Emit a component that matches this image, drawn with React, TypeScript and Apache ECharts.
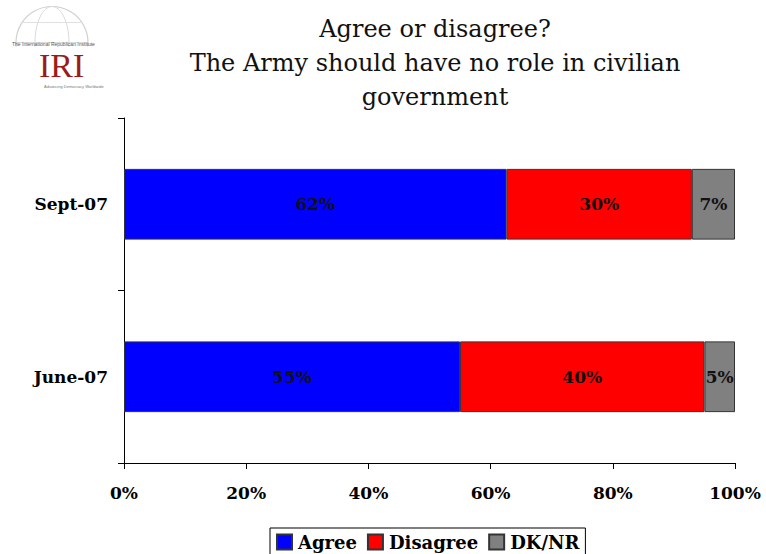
import React, { useEffect, useRef } from "react";
import * as echarts from "echarts";

const categories = ["Sept-07", "June-07"];
const agree = [62, 55];
const disagree = [30, 40];
const dknr = [7, 5];
const xTicks = [0, 20, 40, 60, 80, 100];

const seriesDefs = [
  { name: "Agree", values: agree, color: "#0000ff" },
  { name: "Disagree", values: disagree, color: "#ff0000" },
  { name: "DK/NR", values: dknr, color: "#808080" },
];

const SERIF = "'DejaVu Serif', 'Liberation Serif', serif";

export default function App() {
  const ref = useRef<HTMLDivElement>(null);
  useEffect(() => {
    document.body.style.margin = "0";
    const chart = echarts.init(ref.current!, null, { renderer: "svg" });
    const totals = categories.map((_, i) =>
      seriesDefs.reduce((s, d) => s + d.values[i], 0)
    );
    chart.setOption({
      animation: false,
      backgroundColor: "#ffffff",
      title: {
        text: "Agree or disagree?\nThe Army should have no role in civilian\ngovernment",
        left: 430,
        top: 7,
        textAlign: "center",
        textStyle: {
          fontFamily: SERIF,
          fontWeight: "normal",
          fontSize: 24,
          lineHeight: 34,
          color: "#111",
        },
      },
      grid: { left: 124, right: 31, top: 118, bottom: 91, containLabel: false },
      legend: {
        bottom: -4,
        left: 270,
        itemWidth: 15,
        itemHeight: 15,
        itemGap: 10,
        padding: [5, 6, 7, 6],
        borderColor: "#000",
        borderWidth: 1,
        icon: "rect",
        textStyle: {
          fontFamily: SERIF,
          fontWeight: "bold",
          fontSize: 18,
          color: "#000",
          padding: [0, 0, 0, 1],
        },
        data: seriesDefs.map((d) => d.name),
      },
      xAxis: {
        type: "value",
        min: 0,
        max: 100,
        interval: 20,
        axisLine: { show: true, lineStyle: { color: "#000", width: 1 } },
        axisTick: { show: true, length: 6, lineStyle: { color: "#000" } },
        splitLine: { show: false },
        axisLabel: {
          formatter: (v: number) => (xTicks.includes(v) ? v + "%" : ""),
          fontFamily: SERIF,
          fontWeight: "bold",
          fontSize: 17,
          color: "#000",
          margin: 21,
        },
      },
      yAxis: {
        type: "category",
        inverse: true,
        data: categories,
        axisLine: { show: true, lineStyle: { color: "#000", width: 1 } },
        axisTick: { show: true, length: 6, lineStyle: { color: "#000" } },
        axisLabel: {
          fontFamily: SERIF,
          fontWeight: "bold",
          fontSize: 17,
          color: "#000",
          margin: 16,
        },
      },
      series: seriesDefs.map((d) => ({
        name: d.name,
        type: "bar",
        stack: "total",
        barCategoryGap: "59%",
        itemStyle: { color: d.color, borderColor: "#333", borderWidth: 1 },
        label: {
          show: true,
          position: "inside",
          fontFamily: SERIF,
          fontWeight: "bold",
          fontSize: 17,
          color: "#111",
          formatter: (p: any) => d.values[p.dataIndex] + "%",
        },
        data: d.values.map((v, i) => (v / totals[i]) * 100),
      })),
      graphic: [
        {
          type: "group",
          left: 10,
          top: 4,
          children: [
            { type: "circle", shape: { cx: 44, cy: 38, r: 36 }, style: { fill: "none", stroke: "#d0d0d0", lineWidth: 1.2 } },
            { type: "ellipse", shape: { cx: 44, cy: 38, rx: 17, ry: 36 }, style: { fill: "none", stroke: "#dadada", lineWidth: 1 } },
            { type: "line", shape: { x1: 8, y1: 38, x2: 80, y2: 38 }, style: { stroke: "#dadada", lineWidth: 1 } },
            { type: "line", shape: { x1: 14, y1: 18, x2: 74, y2: 18 }, style: { stroke: "#e0e0e0", lineWidth: 1 } },
            { type: "rect", shape: { x: 2, y: 42, width: 94, height: 40 }, style: { fill: "#fff" } },
            { type: "text", x: 4, y: 37, style: { text: "The International Republican Institute", fontSize: 5, fill: "#555", fontFamily: "Liberation Sans" } },
            { type: "text", x: 31, y: 44, style: { text: "IRI", fontSize: 34, fill: "#9b1b1b", fontFamily: "'Liberation Serif', serif" } },
            { type: "text", x: 36, y: 80, style: { text: "Advancing Democracy Worldwide", fontSize: 4, fill: "#777", fontFamily: "Liberation Sans" } },
          ],
        },
      ],
    });
    return () => chart.dispose();
  }, []);
  return <div ref={ref} style={{ width: 766, height: 554 }} />;
}
